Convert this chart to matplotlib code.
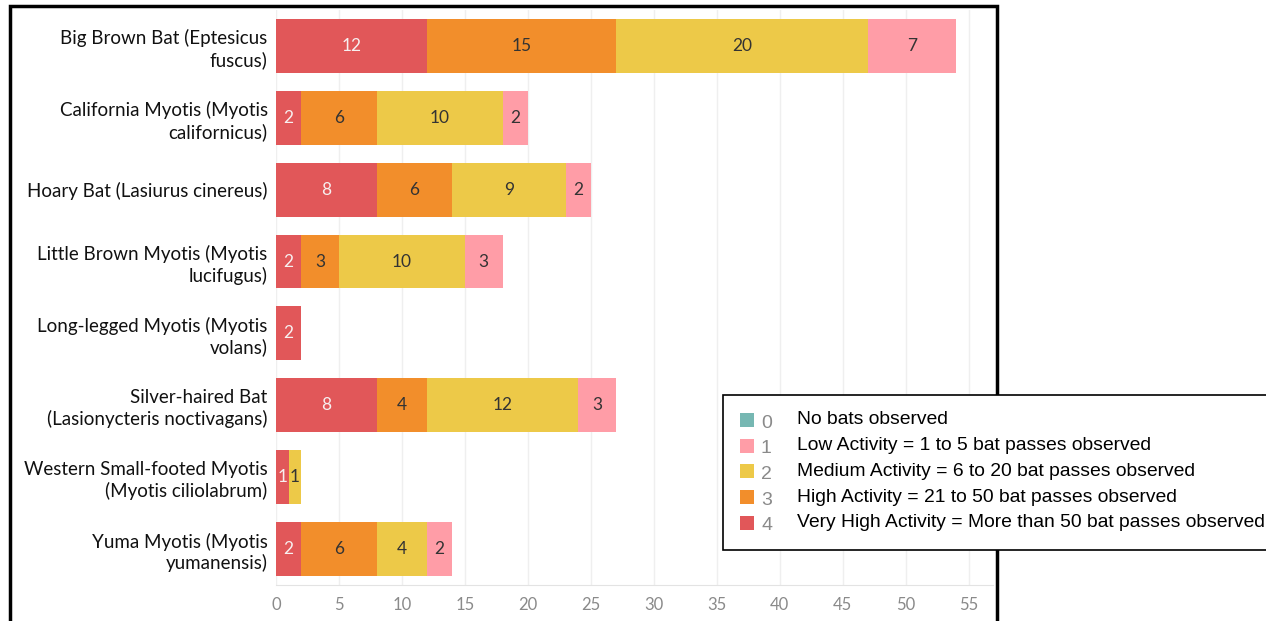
import matplotlib

matplotlib.use("Agg")

import matplotlib.pyplot as plt
from matplotlib.patches import Rectangle

plt.rcParams["font.family"] = ["Lato", "DejaVu Sans"]

ESPECIES = [
    "Big Brown Bat (Eptesicus\nfuscus)",
    "California Myotis (Myotis\ncalifornicus)",
    "Hoary Bat (Lasiurus cinereus)",
    "Little Brown Myotis (Myotis\nlucifugus)",
    "Long-legged Myotis (Myotis\nvolans)",
    "Silver-haired Bat\n(Lasionycteris noctivagans)",
    "Western Small-footed Myotis\n(Myotis ciliolabrum)",
    "Yuma Myotis (Myotis\nyumanensis)",
]

# contagens por nível de atividade (4 = muito alta ... 1 = baixa)
NIVEL_4 = [12, 2, 8, 2, 2, 8, 1, 2]
NIVEL_3 = [15, 6, 6, 3, 0, 4, 0, 6]
NIVEL_2 = [20, 10, 9, 10, 0, 12, 1, 4]
NIVEL_1 = [7, 2, 2, 3, 0, 3, 0, 2]

LEGENDA_NUM = ["0", "1", "2", "3", "4"]
LEGENDA_TXT = [
    "No bats observed",
    "Low Activity = 1 to 5 bat passes observed",
    "Medium Activity = 6 to 20 bat passes observed",
    "High Activity = 21 to 50 bat passes observed",
    "Very High Activity = More than 50 bat passes observed",
]

XTICKS = list(range(0, 60, 5))

CORES = {
    "0": "#76B7B2",
    "1": "#FF9DA7",
    "2": "#EDC948",
    "3": "#F28E2B",
    "4": "#E15759",
}
COR_ROTULO = {"4": "#F7F0F0", "3": "#333333", "2": "#333333", "1": "#333333"}


def main():
    fig = plt.figure(figsize=(12.66, 6.21), dpi=100)
    ax = fig.add_axes([0.218, 0.058, 0.566, 0.926])

    y = list(range(len(ESPECIES)))
    inicio = [0] * len(ESPECIES)

    for nivel, valores in [("4", NIVEL_4), ("3", NIVEL_3), ("2", NIVEL_2), ("1", NIVEL_1)]:
        ax.barh(y, valores, left=inicio, height=0.75, color=CORES[nivel], zorder=2)
        for posicao_y, esquerda, valor in zip(y, inicio, valores):
            if valor > 0:
                ax.text(
                    esquerda + valor / 2,
                    posicao_y,
                    str(valor),
                    ha="center",
                    va="center",
                    fontsize=12.5,
                    color=COR_ROTULO[nivel],
                    zorder=3,
                )
        inicio = [a + b for a, b in zip(inicio, valores)]

    ax.set_ylim(len(ESPECIES) - 0.5, -0.5)
    ax.set_xlim(0, 56.9)
    ax.set_yticks(y)
    ax.set_yticklabels(ESPECIES, fontsize=13.5, color="#111111", linespacing=1.25)
    ax.set_xticks(XTICKS)
    ax.set_xticklabels([str(t) for t in XTICKS], fontsize=12, color="#8a8a8a")
    ax.tick_params(axis="y", length=0, pad=6)
    ax.tick_params(axis="x", length=0, pad=9)
    ax.grid(True, axis="x", color="#efefef", linewidth=1, zorder=0)
    for lado in ["top", "right", "left"]:
        ax.spines[lado].set_visible(False)
    ax.spines["bottom"].set_color("#e3e3e3")

    # moldura preta externa
    fig.patches.append(
        Rectangle(
            (10 / 1266, -0.05),
            987 / 1266,
            1.05 - 6 / 621,
            transform=fig.transFigure,
            fill=False,
            edgecolor="black",
            linewidth=2.5,
            zorder=5,
        )
    )

    # caixa de legenda
    fig.patches.append(
        Rectangle(
            (723 / 1266, 1 - 550 / 621),
            560 / 1266,
            155 / 621,
            transform=fig.transFigure,
            facecolor="white",
            edgecolor="black",
            linewidth=1.2,
            zorder=6,
        )
    )
    for i, (num, texto) in enumerate(zip(LEGENDA_NUM, LEGENDA_TXT)):
        y_px = 420 + i * 25.7
        yf = 1 - y_px / 621
        fig.patches.append(
            Rectangle(
                (740 / 1266, yf - 7 / 621),
                14 / 1266,
                14 / 621,
                transform=fig.transFigure,
                facecolor=CORES[num],
                edgecolor="none",
                zorder=7,
            )
        )
        fig.text(761 / 1266, yf - 3 / 621, num, fontsize=14, color="#8a8a8a", va="center", zorder=7,
                 family=["Liberation Sans", "DejaVu Sans"])
        fig.text(797 / 1266, yf, texto, fontsize=13.9, color="black", va="center", zorder=7,
                 family=["Liberation Sans", "DejaVu Sans"])

    fig.savefig("out.png", dpi=100)
    plt.close(fig)


if __name__ == "__main__":
    main()
